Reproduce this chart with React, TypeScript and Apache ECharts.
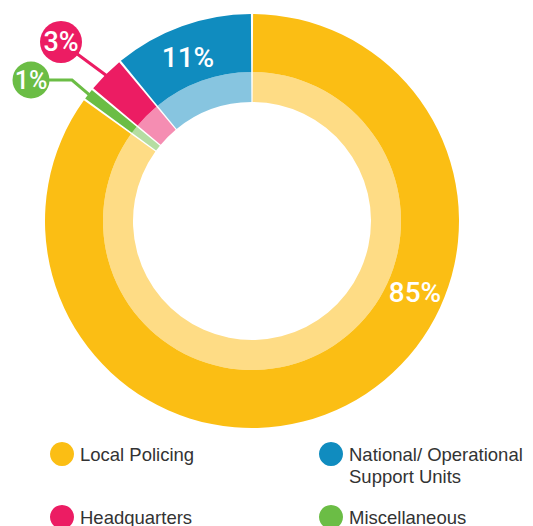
import { useEffect, useRef } from 'react';
import * as echarts from 'echarts';

// ---- data ----
const categories = ['Local Policing', 'Miscellaneous', 'Headquarters', 'National/ Operational Support Units'];
const shares = [85, 1, 3, 11];
const darkColors = ['#FBBE14', '#6BBD45', '#EC1C63', '#108CBF'];
const lightColors = ['#FEDC85', '#B5DDA2', '#F58DB2', '#87C5E0'];
const legendOrder = ['Local Policing', 'National/ Operational Support Units', 'Headquarters', 'Miscellaneous'];
const legendLabels = ['Local Policing', 'National/ Operational\nSupport Units', 'Headquarters', 'Miscellaneous'];

// ---- layout ----
const CENTER = [252, 221];
const OUTER_R = [149, 207];
const INNER_R = [119, 149];
const PAD = 0.6;
const NUM_FONT = 'Roboto, sans-serif';
const TXT_FONT = "'Liberation Sans', Arial, sans-serif";
// label spots (per category index)
const spots: any[] = [
  { x: 415, y: 292 },
  { x: 31, y: 80, bubble: 37, font: 25, elbow: [72, 80] },
  { x: 61, y: 42, bubble: 42, font: 27 },
  { x: 188, y: 57 },
];
const legendCols = [62, 331];
const legendRows = [454, 517];

export default function App() {
  const ref = useRef<HTMLDivElement>(null);
  useEffect(() => {
    if (!ref.current) return;
    const chart = echarts.init(ref.current, null, { renderer: 'svg' });
    const total = shares.reduce((a, b) => a + b, 0);

    const outerData = categories.map((name, i) => {
      const s = spots[i];
      const item: any = { name, value: shares[i], itemStyle: { color: darkColors[i] } };
      if (s.bubble) {
        item.label = {
          show: true,
          position: 'outside',
          formatter: '{b|' + shares[i] + '%}',
          rich: {
            b: {
              width: s.bubble,
              height: s.bubble,
              lineHeight: s.bubble,
              borderRadius: s.bubble / 2,
              backgroundColor: darkColors[i],
              color: '#fff',
              align: 'center',
              verticalAlign: 'middle',
              fontSize: s.font,
              fontWeight: 500,
              fontFamily: NUM_FONT,
            },
          },
        };
        item.labelLine = { show: true, length: 10, length2: 10, smooth: false, lineStyle: { width: 3, color: darkColors[i] } };
      }
      return item;
    });

    const midPoint = (idx: number, r: number) => {
      let before = 0;
      for (let k = 0; k < idx; k++) before += shares[k];
      const frac = (before + shares[idx] / 2) / total;
      const ang = (frac * 360 * Math.PI) / 180; // clockwise from top
      return [CENTER[0] + r * Math.sin(ang), CENTER[1] - r * Math.cos(ang)];
    };

    chart.setOption({
      animation: false,
      series: [
        {
          type: 'pie',
          center: CENTER,
          radius: INNER_R,
          startAngle: 90,
          clockwise: true,
          padAngle: PAD,
          silent: true,
          z: 1,
          label: { show: false },
          labelLine: { show: false },
          emphasis: { disabled: true },
          data: categories.map((name, i) => ({ name, value: shares[i], itemStyle: { color: lightColors[i] } })),
        },
        {
          type: 'pie',
          center: CENTER,
          radius: OUTER_R,
          startAngle: 90,
          clockwise: true,
          padAngle: PAD,
          avoidLabelOverlap: false,
          silent: true,
          z: 2,
          emphasis: { disabled: true },
          label: {
            show: true,
            position: 'inside',
            formatter: (p: any) => p.value + '%',
            color: '#fff',
            fontSize: 28,
            fontWeight: 500,
            fontFamily: NUM_FONT,
          },
          labelLine: { show: false },
          labelLayout: (p: any) => {
            const s = spots[p.dataIndex];
            if (!s) return {};
            const res: any = { x: s.x, y: s.y, align: 'center', verticalAlign: 'middle' };
            if (s.bubble) {
              const start = midPoint(p.dataIndex, OUTER_R[1] - 2);
              const end = [s.x, s.y];
              const mid = s.elbow ? s.elbow : [(start[0] + end[0]) / 2, (start[1] + end[1]) / 2];
              res.labelLinePoints = [start, mid, end];
            }
            return res;
          },
          data: outerData,
        },
      ],
      graphic: legendOrder.map((name, j) => {
        const i = categories.indexOf(name);
        const cx = legendCols[j % 2];
        const cy = legendRows[Math.floor(j / 2)];
        return {
          type: 'group',
          children: [
            { type: 'circle', shape: { cx, cy, r: 12 }, style: { fill: darkColors[i] } },
            {
              type: 'text',
              x: cx + 18,
              y: cy - 11,
              style: {
                text: legendLabels[j],
                fill: '#333333',
                fontSize: 18.5,
                lineHeight: 22,
                fontFamily: TXT_FONT,
                verticalAlign: 'top',
                align: 'left',
              },
            },
          ],
        };
      }),
    });
    return () => chart.dispose();
  }, []);
  return <div ref={ref} style={{ position: 'absolute', left: 0, top: 0, width: 533, height: 526 }} />;
}
